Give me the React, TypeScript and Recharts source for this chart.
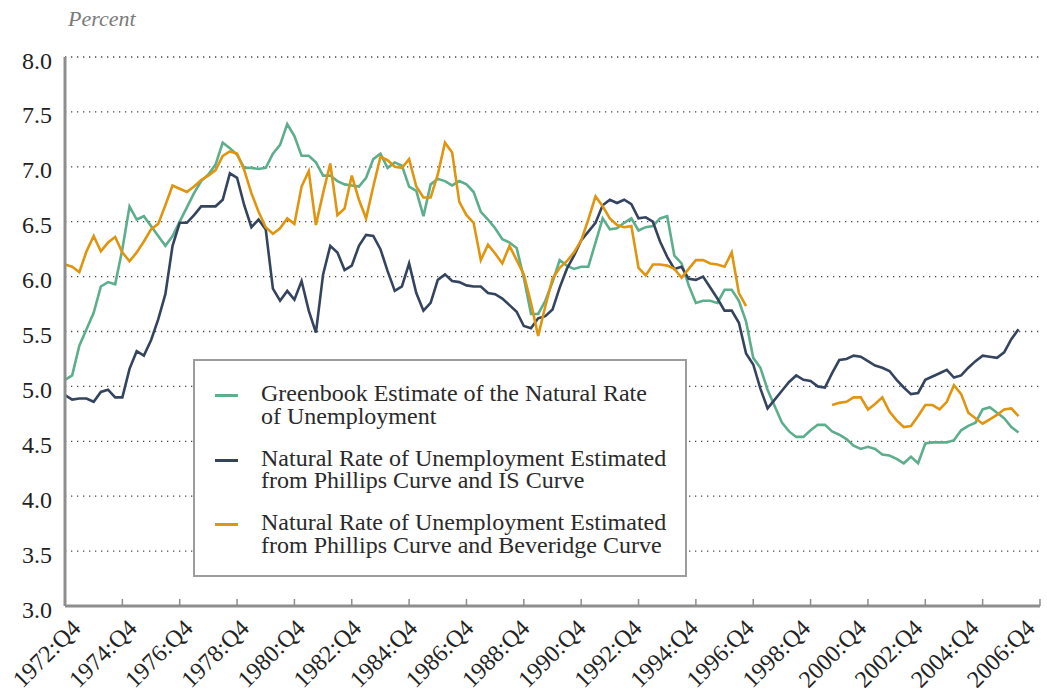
import React from 'react'
import { LineChart, Line, XAxis, YAxis, CartesianGrid } from 'recharts'

// quarterly categories, 1972:Q4 .. 2006:Q4
const quarters: string[] = []
for (let i = 0; i <= 136; i++) {
  const n = i + 3
  quarters.push(`${1972 + Math.floor(n / 4)}:Q${(n % 4) + 1}`)
}

const xTickLabels = [
  '1972:Q4', '1974:Q4', '1976:Q4', '1978:Q4', '1980:Q4', '1982:Q4',
  '1984:Q4', '1986:Q4', '1988:Q4', '1990:Q4', '1992:Q4', '1994:Q4',
  '1996:Q4', '1998:Q4', '2000:Q4', '2002:Q4', '2004:Q4', '2006:Q4',
]
const yTicks = [3, 3.5, 4, 4.5, 5, 5.5, 6, 6.5, 7, 7.5, 8]

// 1972:Q4 - 2006:Q1
const greenbook = [
  5.06, 5.10, 5.37, 5.52, 5.67, 5.91, 5.95, 5.93, 6.25, 6.64,
  6.52, 6.55, 6.46, 6.37, 6.28, 6.37, 6.50, 6.63, 6.76, 6.87,
  6.93, 7.02, 7.22, 7.17, 7.11, 6.99, 6.99, 6.98, 6.99, 7.12,
  7.20, 7.39, 7.28, 7.10, 7.10, 7.04, 6.92, 6.92, 6.87, 6.84,
  6.83, 6.82, 6.90, 7.07, 7.12, 6.99, 7.04, 7.01, 6.82, 6.78,
  6.55, 6.84, 6.89, 6.87, 6.83, 6.87, 6.84, 6.77, 6.59, 6.52,
  6.44, 6.34, 6.31, 6.26, 5.99, 5.66, 5.66, 5.78, 5.95, 6.15,
  6.10, 6.07, 6.09, 6.09, 6.31, 6.53, 6.43, 6.44, 6.49, 6.53,
  6.42, 6.45, 6.46, 6.53, 6.55, 6.19, 6.12, 5.92, 5.76, 5.78,
  5.78, 5.76, 5.88, 5.88, 5.78, 5.59, 5.26, 5.17, 4.97, 4.82,
  4.67, 4.59, 4.54, 4.54, 4.60, 4.65, 4.65, 4.59, 4.56, 4.52,
  4.46, 4.43, 4.45, 4.43, 4.38, 4.37, 4.34, 4.30, 4.36, 4.30,
  4.48, 4.49, 4.49, 4.49, 4.51, 4.60, 4.64, 4.67, 4.79, 4.81,
  4.76, 4.71, 4.63, 4.58,
]

// 1972:Q4 - 2006:Q1
const phillipsIS = [
  4.92, 4.88, 4.89, 4.89, 4.86, 4.95, 4.97, 4.90, 4.90, 5.16,
  5.32, 5.28, 5.42, 5.61, 5.84, 6.28, 6.49, 6.49, 6.56, 6.64,
  6.64, 6.64, 6.70, 6.94, 6.90, 6.65, 6.45, 6.52, 6.43, 5.89,
  5.78, 5.87, 5.79, 5.96, 5.69, 5.49, 6.02, 6.28, 6.22, 6.06,
  6.10, 6.28, 6.38, 6.37, 6.25, 6.05, 5.87, 5.91, 6.12, 5.85,
  5.69, 5.76, 5.97, 6.02, 5.96, 5.95, 5.92, 5.91, 5.91, 5.85,
  5.84, 5.80, 5.74, 5.68, 5.55, 5.53, 5.62, 5.64, 5.70, 5.90,
  6.07, 6.19, 6.33, 6.41, 6.49, 6.65, 6.70, 6.67, 6.70, 6.66,
  6.53, 6.54, 6.50, 6.32, 6.18, 6.07, 6.09, 5.98, 5.97, 6.00,
  5.90, 5.80, 5.69, 5.69, 5.58, 5.30, 5.20, 4.98, 4.80, 4.88,
  4.96, 5.04, 5.10, 5.06, 5.05, 5.00, 4.99, 5.12, 5.24, 5.25,
  5.28, 5.27, 5.23, 5.19, 5.17, 5.14, 5.06, 4.99, 4.93, 4.94,
  5.06, 5.09, 5.12, 5.15, 5.08, 5.10, 5.17, 5.23, 5.28, 5.27,
  5.26, 5.31, 5.43, 5.52,
]

// 1972:Q4 - 1996:Q3
const beveridgeEarly = [
  6.11, 6.09, 6.04, 6.23, 6.37, 6.23, 6.31, 6.36, 6.22, 6.14,
  6.22, 6.32, 6.43, 6.48, 6.65, 6.83, 6.80, 6.77, 6.82, 6.88,
  6.92, 6.97, 7.10, 7.14, 7.12, 6.97, 6.76, 6.59, 6.45, 6.39,
  6.44, 6.53, 6.48, 6.82, 6.96, 6.47, 6.76, 7.03, 6.56, 6.62,
  6.92, 6.70, 6.53, 6.82, 7.09, 7.06, 7.00, 6.99, 7.07, 6.82,
  6.72, 6.72, 6.93, 7.22, 7.13, 6.68, 6.56, 6.49, 6.15, 6.29,
  6.21, 6.12, 6.28, 6.15, 6.02, 5.76, 5.46, 5.73, 5.98, 6.08,
  6.14, 6.22, 6.33, 6.52, 6.73, 6.64, 6.53, 6.47, 6.45, 6.46,
  6.08, 6.01, 6.11, 6.11, 6.10, 6.07, 5.99, 6.07, 6.15, 6.15,
  6.12, 6.11, 6.09, 6.22, 5.85, 5.73,
]

// 1999:Q3 - 2006:Q1
const beveridgeLateStart = '1999:Q3'
const beveridgeLate = [
  4.83, 4.85, 4.86, 4.90, 4.90, 4.79, 4.84, 4.90, 4.77, 4.69,
  4.63, 4.64, 4.73, 4.83, 4.83, 4.79, 4.86, 5.01, 4.93, 4.76,
  4.71, 4.66, 4.70, 4.74, 4.79, 4.80, 4.73,
]

const series = [
  {
    key: 'greenbook',
    color: '#5DAE8C',
    lines: ['Greenbook Estimate of the Natural Rate', 'of Unemployment'],
  },
  {
    key: 'phillipsIS',
    color: '#34445F',
    lines: ['Natural Rate of Unemployment Estimated', 'from Phillips Curve and IS Curve'],
  },
  {
    key: 'beveridge',
    color: '#E0950F',
    lines: ['Natural Rate of Unemployment Estimated', 'from Phillips Curve and Beveridge Curve'],
  },
]

const lateStart = quarters.indexOf(beveridgeLateStart)
const data = quarters.map((q, i) => ({
  q,
  greenbook: greenbook[i] ?? null,
  phillipsIS: phillipsIS[i] ?? null,
  beveridge:
    i < beveridgeEarly.length
      ? beveridgeEarly[i]
      : i >= lateStart
        ? beveridgeLate[i - lateStart] ?? null
        : null,
}))

const FONT = '"Liberation Serif", "Times New Roman", serif'
const AXIS_GRAY = '#8e8e8e'

const XTick = ({ x, y, payload, index }: any) => {
  // labels drift slightly left of their ticks across the axis, as in the source
  const lx = x + 17 - index * 1.22
  const ly = y + 23.5
  return (
    <g>
      <line x1={x} y1={y} x2={x} y2={y - 7} stroke={AXIS_GRAY} strokeWidth={1.5} />
      <text
        x={lx}
        y={ly}
        transform={`rotate(-45 ${lx} ${ly})`}
        textAnchor="end"
        fontSize={24}
        fontFamily={FONT}
        fill="#222"
      >
        {payload.value}
      </text>
    </g>
  )
}

const YTick = ({ x, y, payload }: any) => (
  <text x={x - 13} y={y + 11.5} textAnchor="end" fontSize={24} fontFamily={FONT} fill="#222">
    {Number(payload.value).toFixed(1)}
  </text>
)

export default function App() {
  return (
    <div
      style={{
        position: 'absolute',
        left: 0,
        top: 0,
        width: 1047,
        height: 692,
        background: '#fff',
        fontFamily: FONT,
      }}
    >
      <LineChart width={1047} height={692} data={data} margin={{ top: 57, right: 7, bottom: 0, left: 0 }}>
        <CartesianGrid vertical={false} stroke="#4a4a4a" strokeWidth={1.3} strokeDasharray="1.3 4.7" />
        <XAxis
          dataKey="q"
          ticks={xTickLabels}
          interval={0}
          height={86}
          tickSize={0}
          tickMargin={0}
          tickLine={false}
          axisLine={{ stroke: AXIS_GRAY, strokeWidth: 3 }}
          tick={<XTick />}
        />
        <YAxis
          type="number"
          domain={[3, 8]}
          ticks={yTicks}
          interval={0}
          width={65}
          tickSize={0}
          tickMargin={0}
          tickLine={false}
          axisLine={{ stroke: AXIS_GRAY, strokeWidth: 3 }}
          tick={<YTick />}
        />
        {series.map((s) => (
          <Line
            key={s.key}
            type="linear"
            dataKey={s.key}
            stroke={s.color}
            strokeWidth={2.6}
            dot={false}
            activeDot={false}
            connectNulls={false}
            isAnimationActive={false}
          />
        ))}
      </LineChart>

      <div
        style={{
          position: 'absolute',
          left: 68,
          top: 6,
          fontSize: 22,
          lineHeight: '26px',
          fontStyle: 'italic',
          color: '#7a7a7a',
        }}
      >
        Percent
      </div>

      <div
        style={{
          position: 'absolute',
          left: 193,
          top: 359,
          width: 494,
          height: 218,
          boxSizing: 'border-box',
          border: '2px solid #9c9c9c',
          background: '#fff',
        }}
      >
        {series.map((s, k) => (
          <div key={s.key} style={{ position: 'absolute', left: 0, top: 21.4 + k * 64.5 }}>
            <div
              style={{
                position: 'absolute',
                left: 20,
                top: 11.8,
                width: 23,
                height: 3,
                background: s.color,
              }}
            />
            <div
              style={{
                position: 'absolute',
                left: 66,
                top: 0,
                fontSize: 24,
                lineHeight: '22.5px',
                color: '#2a2a2a',
                whiteSpace: 'nowrap',
              }}
            >
              {s.lines.map((t) => (
                <div key={t}>{t}</div>
              ))}
            </div>
          </div>
        ))}
      </div>
    </div>
  )
}
